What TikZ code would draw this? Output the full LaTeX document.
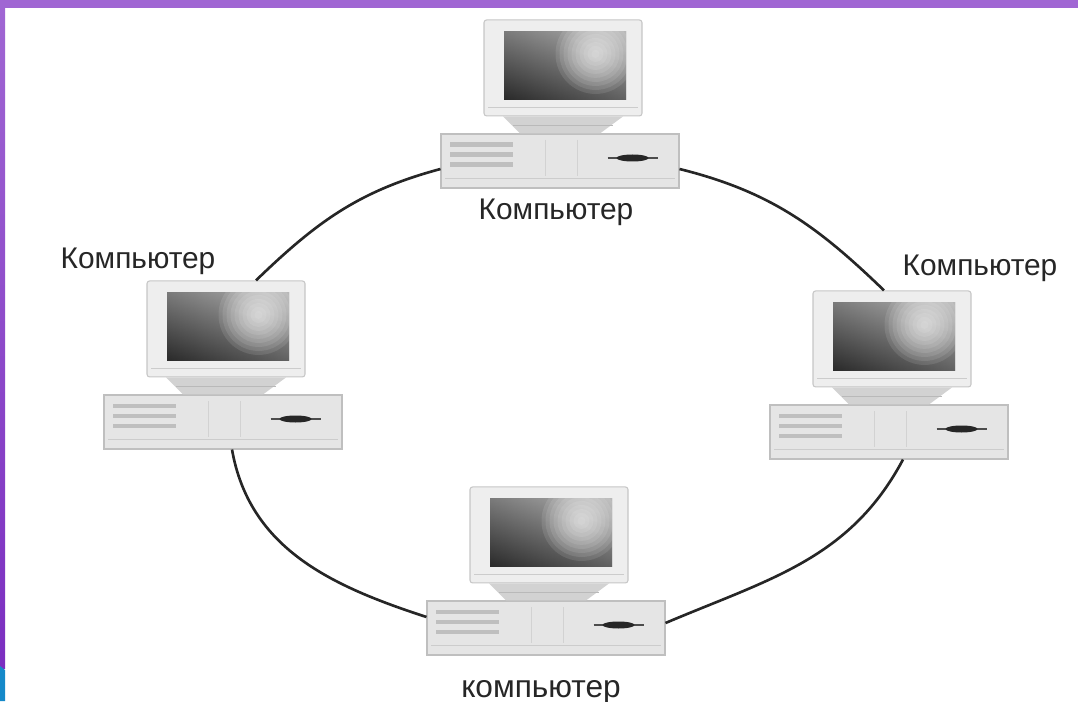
\documentclass[tikz,border=0pt]{standalone}
\usepackage{fontspec}
\setmainfont{Liberation Sans}
\usetikzlibrary{positioning,calc}

\definecolor{barpurple}{HTML}{A066D3}
\definecolor{bardeep}{HTML}{7B2EC0}
\definecolor{barblue}{HTML}{1589C9}

\tikzset{
  case/.style={draw=gray!50, fill=gray!20, line width=0.6pt, minimum width=4.76cm, minimum height=1.08cm, inner sep=0pt},
  bezel/.style={draw=gray!45, fill=gray!13, line width=0.6pt, rounded corners=1.5pt, minimum width=3.16cm, minimum height=1.92cm, inner sep=0pt},
  wire/.style={line width=1.5pt, black!85},
  caption/.style={font=\fontsize{17}{19}\selectfont, text=black!85, inner sep=0pt},
}

% one computer: case (box-#1) with the monitor (mon-#1) on top
\newcommand{\computer}[2]{%
  \node[case] (box-#1) at (#2) {};
  \node[bezel, above=0.34cm of box-#1, xshift=0.06cm] (mon-#1) {};
  \fill[gray!35] ([xshift=-1.2cm]mon-#1.south) -- ([xshift=1.2cm]mon-#1.south)
    -- ([xshift=0.8cm]box-#1.north) -- ([xshift=-0.8cm]box-#1.north) -- cycle;
  \draw[gray!55] ([xshift=-1.0cm,yshift=-0.17cm]mon-#1.south) -- ([xshift=1.0cm,yshift=-0.17cm]mon-#1.south);
  \begin{scope}[shift={(mon-#1.center)}]
    \shade[left color=black!95, right color=black!55] (-1.18,-0.64) rectangle (1.26,0.72);
    \begin{scope}
      \clip (-1.18,-0.64) rectangle (1.26,0.72);
      \shade[top color=black!0, bottom color=black!70, opacity=0.45] (-1.18,-0.64) rectangle (1.26,0.72);
      \foreach \r in {0.8,0.72,...,0.04}
        \fill[white, opacity=0.1] (0.65,0.28) circle (\r);
    \end{scope}
    \draw[gray!40] (-1.5,-0.78) -- (1.5,-0.78);
  \end{scope}
  \begin{scope}[shift={(box-#1.center)}]
    \foreach \y in {0.28,0.08,-0.12}
      \fill[gray!50] (-2.2,\y) rectangle (-0.95,\y+0.09);
    \draw[gray!35] (-0.3,0.42) -- (-0.3,-0.3) (0.35,0.42) -- (0.35,-0.3);
    \draw[gray!40] (-2.3,-0.34) -- (2.3,-0.34);
    \draw[black!70, line width=1.2pt] (0.95,0.06) -- (1.95,0.06);
    \fill[black!85] (1.45,0.06) ellipse (0.32 and 0.07);
  \end{scope}
}

\begin{document}
\begin{tikzpicture}[x=1cm, y=1cm]
  \useasboundingbox (0,0) rectangle (21.56,14.02);
  % frame
  \fill[barpurple] (0,13.86) rectangle (21.56,14.02);
  \shade[top color=barpurple, bottom color=bardeep] (0,0.66) rectangle (0.1,13.86);
  \fill[barblue] (0,0) -- (0.1,0) -- (0.1,0.62) -- (0,0.7) -- cycle;

  \computer{top}{11.2,10.8}
  \computer{left}{4.46,5.58}
  \computer{right}{17.78,5.38}
  \computer{bot}{10.92,1.46}

  % ring
  \draw[wire] ([yshift=-0.16cm]box-top.west) to[out=195, in=44] ([xshift=0.6cm]mon-left.north);
  \draw[wire] ([xshift=0.18cm]box-left.south) to[out=280, in=162] ([yshift=0.22cm]box-bot.west);
  \draw[wire] ([yshift=0.1cm]box-bot.east) to[out=23, in=242] ([xshift=0.28cm]box-right.south);
  \draw[wire] ([xshift=-0.16cm]mon-right.north) to[out=136, in=-14] ([yshift=-0.16cm]box-top.east);

  \node[caption] (cap-top) at (11.12,9.78) {Компьютер};
  \node[caption] (cap-left) at (2.76,8.8) {Компьютер};
  \node[caption] (cap-right) at (19.6,8.66) {Компьютер};
  \node[caption, font=\fontsize{18}{20}\selectfont, anchor=base] (cap-bot) at (10.82,0.08) {компьютер};
\end{tikzpicture}
\end{document}
